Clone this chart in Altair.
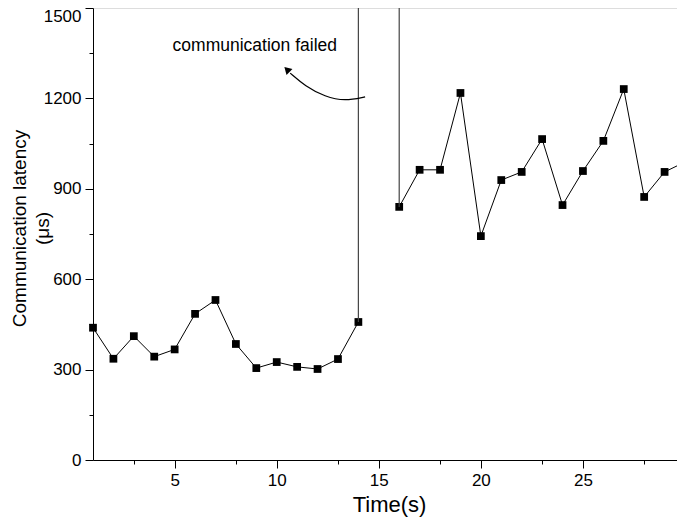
import altair as alt
import pandas as pd

# ---- data ----
time_ok_1 = list(range(1, 15))
latency_1 = [439, 336, 411, 343, 367, 485, 531, 385, 305, 325, 309, 302, 335, 458]
time_ok_2 = list(range(16, 31))
latency_2 = [840, 963, 963, 1218, 743, 929, 956, 1065, 846, 959, 1059, 1231, 873, 956, 989]
failed_edge_time = [14, 16]
failed_edge_latency = [458, 840]
y_max = 1500

x_ticks = [3, 5, 8, 10, 13, 15, 18, 20, 23, 25, 28]     # majors every 5, minors between
y_ticks = [0, 150, 300, 450, 600, 750, 900, 1050, 1200, 1350, 1500]

annotation_text = ["communication failed"]
annotation_x = [4.9]
annotation_y = [1374]
arrow_x = [14.33, 13.35, 12.37, 11.39, 10.66]
arrow_y = [1205, 1191, 1205, 1241, 1284]
arrow_tip_x = [10.5]
arrow_tip_y = [1296]

# ---- tables ----
pts = pd.DataFrame({
    "t": time_ok_1 + time_ok_2,
    "lat": latency_1 + latency_2,
    "seg": ["a"] * len(time_ok_1) + ["b"] * len(time_ok_2),
})
fail = pd.DataFrame({"t": failed_edge_time, "lat": failed_edge_latency})
txt = pd.DataFrame({"t": annotation_x, "lat": annotation_y, "label": annotation_text})
arrow = pd.DataFrame({"t": arrow_x, "lat": arrow_y, "o": list(range(len(arrow_x)))})
tip = pd.DataFrame({"t": arrow_tip_x, "lat": arrow_tip_y})

W, H = 584, 452
FONT = "Liberation Sans"

# the axis runs on past the right edge of the picture, as in the reference
xs = alt.Scale(domain=[1, 30], nice=False, zero=False, range=[0, 592])
ys = alt.Scale(domain=[0, y_max], nice=False)

x_major_test = "datum.value % 5 === 0"
y_major_test = "datum.value % 300 === 0"

x_axis = alt.Axis(values=x_ticks, orient="bottom", grid=False,
                  tickSize=alt.condition(x_major_test, alt.value(8), alt.value(4)),
                  labelExpr=f"{x_major_test} ? datum.label : ''",
                  tickColor="black", domainColor="black", labelFontSize=17,
                  labelFont=FONT, labelColor="black", labelPadding=4,
                  title="Time(s)", titleFont=FONT, titleFontSize=22,
                  titleFontWeight="normal", titleColor="black",
                  titleX=296, titleY=34, titleBaseline="top")
y_axis = alt.Axis(values=y_ticks, orient="left", grid=False, format="d",
                  tickSize=alt.condition(y_major_test, alt.value(8), alt.value(4)),
                  labelExpr=f"{y_major_test} ? datum.label : ''",
                  labelBaseline=alt.condition(f"datum.value === {y_max}",
                                              alt.value("top"), alt.value("middle")),
                  tickColor="black", domainColor="black", labelFontSize=17,
                  labelFont=FONT, labelColor="black", labelPadding=4,
                  title=["Communication latency", "(μs)"], titleFont=FONT,
                  titleFontSize=19, titleFontWeight="normal", titleColor="black",
                  titleLineHeight=23, titleX=-64, titleY=220)

line = alt.Chart(pts).mark_line(color="black", strokeWidth=1).encode(
    x=alt.X("t:Q", scale=xs, axis=x_axis),
    y=alt.Y("lat:Q", scale=ys, axis=y_axis),
    detail="seg:N",
)
points = alt.Chart(pts).mark_point(shape="square", filled=True, color="black",
                                   size=60, opacity=1).encode(
    x=alt.X("t:Q", scale=xs),
    y=alt.Y("lat:Q", scale=ys),
)
# lost packets: the trace leaves the top of the plot
rules = alt.Chart(fail).mark_rule(color="#444444", strokeWidth=1.2).encode(
    x=alt.X("t:Q", scale=xs),
    y=alt.Y("lat:Q", scale=ys),
    y2=alt.value(0),
)
label = alt.Chart(txt).mark_text(align="left", baseline="middle", font=FONT,
                                 fontSize=17.5, color="black").encode(
    x=alt.X("t:Q", scale=xs),
    y=alt.Y("lat:Q", scale=ys),
    text="label:N",
)
curve = alt.Chart(arrow).mark_line(color="black", strokeWidth=1.2,
                                   interpolate="basis").encode(
    x=alt.X("t:Q", scale=xs),
    y=alt.Y("lat:Q", scale=ys),
    order="o:Q",
)
head = alt.Chart(tip).mark_point(shape="triangle-up", filled=True, color="black",
                                 size=70, angle=315, opacity=1).encode(
    x=alt.X("t:Q", scale=xs),
    y=alt.Y("lat:Q", scale=ys),
)

chart = alt.layer(line, points, rules, curve, head, label).properties(
    width=W, height=H,
    autosize=alt.AutoSizeParams(type="none"),
    padding={"left": 85, "top": 0, "right": 0, "bottom": 57},
).configure_view(stroke=None).configure(background="white")

chart.save("out.html", embed_options={"renderer": "svg", "actions": False})
